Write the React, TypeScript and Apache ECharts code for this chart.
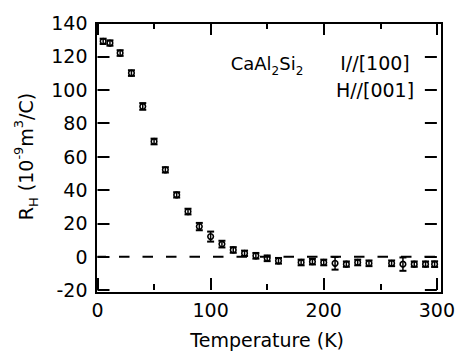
import React, { useEffect, useRef } from "react";
import * as echarts from "echarts";

// Temperature (K)
const temperatures = [5, 11, 20, 30, 40, 50, 60, 70, 80, 90, 100, 110, 120, 130, 140, 150, 160, 180, 190, 200, 210, 220, 230, 240, 260, 270, 280, 290, 298];
// Hall coefficient R_H (1e-9 m^3/C)
const hallCoeff = [129, 128, 122, 110, 90, 69, 52, 37, 27, 18, 12, 7.5, 4, 2, 0.5, -1, -2.5, -3.5, -3, -3.5, -4, -4.5, -3.5, -4, -4, -4.5, -4.5, -4.5, -4.5];
// error bar half-heights
const errors = [1.6, 1.6, 1.7, 1.7, 2, 1.7, 1.6, 1.6, 1.7, 2.2, 3, 2, 1.7, 1.6, 1.7, 1.7, 1.7, 1.7, 1.7, 1.7, 3.8, 1.6, 1.7, 1.7, 1.7, 4, 1.6, 1.6, 1.7];
// axis ranges: [min, max, interval]
const xRange = [0, 300, 100];
const yRange = [-20, 140, 20];
const zeroLine = [0];

const FONT = "DejaVu Sans";

export default function App() {
  const ref = useRef<HTMLDivElement>(null);
  useEffect(() => {
    if (!ref.current) return;
    const chart = echarts.init(ref.current, undefined, { renderer: "svg" });
    const data = temperatures.map((t, i) => [t, hallCoeff[i], errors[i]]);
    const xCommon = {
      type: "value" as const,
      min: xRange[0],
      max: xRange[1],
      interval: xRange[2],
      axisLine: { show: false, onZero: false },
      axisTick: { show: true, inside: true, length: 12, lineStyle: { color: "#000", width: 2 } },
      minorTick: { show: true, splitNumber: 2, length: 6, lineStyle: { color: "#000", width: 2 } },
      splitLine: { show: false },
      minorSplitLine: { show: false },
    };
    const yCommon = {
      type: "value" as const,
      min: yRange[0],
      max: yRange[1],
      interval: yRange[2],
      axisLine: { show: false, onZero: false },
      axisTick: { show: true, inside: true, length: 12, lineStyle: { color: "#000", width: 2 } },
      splitLine: { show: false },
    };
    chart.setOption({
      animation: false,
      grid: { left: 97.5, right: 18.5, top: 23, bottom: 61, containLabel: false },
      xAxis: [
        {
          ...xCommon,
          position: "bottom",
          name: "Temperature (K)",
          nameLocation: "middle",
          nameGap: 40,
          nameTextStyle: { fontFamily: FONT, fontSize: 19, color: "#000" },
          axisLabel: { show: true, margin: 10, fontFamily: FONT, fontSize: 19, color: "#000" },
        },
        { ...xCommon, position: "top", axisLabel: { show: false } },
      ],
      yAxis: [
        {
          ...yCommon,
          position: "left",
          name: "{b|R}{sub|H}{b| (10}{sup|-9}{b|m}{sup|3}{b|/C)}",
          nameLocation: "middle",
          nameGap: 58,
          nameTextStyle: {
            fontFamily: FONT,
            fontSize: 19,
            color: "#000",
            rich: {
              b: { fontFamily: FONT, fontSize: 19, color: "#000", lineHeight: 28, verticalAlign: "middle" },
              sub: { fontFamily: FONT, fontSize: 13, color: "#000", lineHeight: 14, verticalAlign: "bottom" },
              sup: { fontFamily: FONT, fontSize: 13, color: "#000", lineHeight: 14, verticalAlign: "top" },
            },
          },
          axisLabel: { show: true, margin: 10, fontFamily: FONT, fontSize: 19, color: "#000" },
        },
        { ...yCommon, position: "right", axisLabel: { show: false } },
      ],
      graphic: [
        {
          type: "rect",
          shape: { x: 96, y: 23, width: 346, height: 270 },
          style: { fill: "none", stroke: "#000", lineWidth: 2 },
          z: 100,
        },
        {
          type: "text",
          x: 267,
          y: 63,
          style: {
            text: "{b|CaAl}{sub|2}{b|Si}{sub|2}",
            align: "center",
            verticalAlign: "middle",
            rich: {
              b: { fontFamily: FONT, fontSize: 18, fill: "#000", lineHeight: 28, verticalAlign: "middle" },
              sub: { fontFamily: FONT, fontSize: 12, fill: "#000", lineHeight: 14, verticalAlign: "bottom" },
            },
          },
        },
        {
          type: "text",
          x: 375,
          y: 63,
          style: { text: "I//[100]", fontFamily: FONT, fontSize: 19, fill: "#000", align: "center", verticalAlign: "middle" },
        },
        {
          type: "text",
          x: 375,
          y: 90,
          style: { text: "H//[001]", fontFamily: FONT, fontSize: 19, fill: "#000", align: "center", verticalAlign: "middle" },
        },
      ],
      series: [
        {
          type: "line",
          data: [
            [xRange[0], zeroLine[0]],
            [xRange[1], zeroLine[0]],
          ],
          symbol: "none",
          silent: true,
          lineStyle: { color: "#000", width: 2, type: [10.5, 13], dashOffset: 1.5 },
        },
        {
          type: "custom",
          data,
          clip: false,
          renderItem: (params: any, api: any) => {
            const x = api.value(0);
            const y = api.value(1);
            const e = api.value(2);
            const c = api.coord([x, y]);
            const top = api.coord([x, y + e]);
            const bot = api.coord([x, y - e]);
            const hw = 3.5;
            return {
              type: "group",
              children: [
                { type: "circle", shape: { cx: c[0], cy: c[1], r: 2.8 }, style: { fill: "#fff", stroke: "#000", lineWidth: 1.6 } },
                { type: "line", shape: { x1: c[0], y1: top[1], x2: c[0], y2: bot[1] }, style: { stroke: "#000", lineWidth: 1.5 } },
                { type: "line", shape: { x1: c[0] - hw, y1: top[1], x2: c[0] + hw, y2: top[1] }, style: { stroke: "#000", lineWidth: 2 } },
                { type: "line", shape: { x1: c[0] - hw, y1: bot[1], x2: c[0] + hw, y2: bot[1] }, style: { stroke: "#000", lineWidth: 2 } },
              ],
            };
          },
        },
      ],
    });
    return () => chart.dispose();
  }, []);
  return <div ref={ref} style={{ position: "fixed", left: 0, top: 0, width: 458, height: 354, background: "#fff" }} />;
}
